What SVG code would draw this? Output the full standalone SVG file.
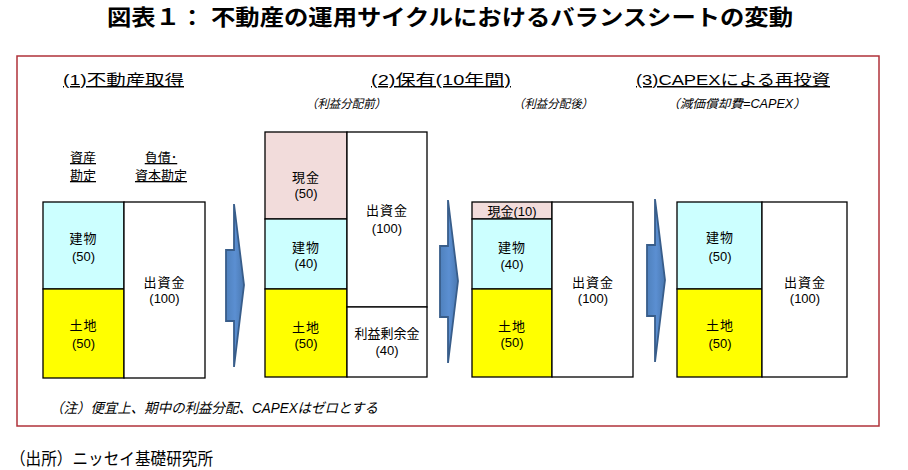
<svg xmlns="http://www.w3.org/2000/svg" width="908" height="470" viewBox="0 0 908 470">
<defs>
<linearGradient id="ag" x1="0" y1="0" x2="1" y2="0">
<stop offset="0" stop-color="#4f81bd"/>
<stop offset="0.5" stop-color="#5b8fd2"/>
<stop offset="1" stop-color="#4a78b0"/>
</linearGradient>
<path id="arrow" d="M0,46 L8,46 L8,0 L18,81 L8,163 L8,117 L0,117 Z"/>
</defs>
<style>
text{font-family:"Liberation Sans","Noto Sans CJK JP",sans-serif;fill:#000}
.title{font-size:22px;font-weight:bold}
.hd{font-size:15px;text-decoration:underline}
.sub{font-size:12px;font-style:italic}
.lbl{font-size:13px;text-anchor:middle}
.col{font-size:13px;text-anchor:middle;text-decoration:underline}
.cell{stroke:#000;stroke-width:1.3}
.cash{fill:#f2dcdb}
.bld{fill:#ccffff}
.land{fill:#ffff00}
.eq{fill:#ffffff}
.arr{fill:url(#ag);stroke:#385d8a;stroke-width:1.8;stroke-linejoin:miter}
</style>
<rect width="908" height="470" fill="#ffffff"/>
<text class="title" x="107" y="25" textLength="686" lengthAdjust="spacingAndGlyphs">図表１： 不動産の運用サイクルにおけるバランスシートの変動</text>
<rect x="17" y="56" width="862" height="370" fill="none" stroke="#b0323a" stroke-width="1.5"/>

<text class="hd" x="63" y="85" textLength="121" lengthAdjust="spacingAndGlyphs">(1)不動産取得</text>
<text class="hd" x="371" y="85" textLength="140" lengthAdjust="spacingAndGlyphs">(2)保有(10年間)</text>
<text class="hd" x="636" y="85" textLength="194" lengthAdjust="spacingAndGlyphs">(3)CAPEXによる再投資</text>
<text class="sub" x="306" y="108" textLength="80" lengthAdjust="spacingAndGlyphs">（利益分配前）</text>
<text class="sub" x="513" y="108" textLength="80" lengthAdjust="spacingAndGlyphs">（利益分配後）</text>
<text class="sub" x="667" y="108" textLength="139" lengthAdjust="spacingAndGlyphs">（減価償却費=CAPEX）</text>

<g id="bs1">
<text class="col" x="83" y="162">資産</text>
<text class="col" x="83" y="180">勘定</text>
<text class="col" x="161" y="162">負債･</text>
<text class="col" x="161" y="180">資本勘定</text>
<g id="bs1-building"><rect class="cell bld" x="43" y="202" width="81" height="87"/><text class="lbl" x="83.5" y="243" letter-spacing="1">建物</text><text class="lbl" x="83.5" y="261">(50)</text></g>
<g id="bs1-land"><rect class="cell land" x="43" y="289" width="81" height="89"/><text class="lbl" x="83.5" y="330" letter-spacing="1">土地</text><text class="lbl" x="83.5" y="348">(50)</text></g>
<g id="bs1-capital"><rect class="cell eq" x="124" y="202" width="81" height="176"/><text class="lbl" x="164.5" y="287" letter-spacing="1">出資金</text><text class="lbl" x="164.5" y="303">(100)</text></g>
</g>

<g id="bs2">
<g id="bs2-cash"><rect class="cell cash" x="265" y="132" width="82" height="87"/><text class="lbl" x="306" y="182" letter-spacing="1">現金</text><text class="lbl" x="306" y="198">(50)</text></g>
<g id="bs2-building"><rect class="cell bld" x="265" y="219" width="82" height="70"/><text class="lbl" x="306" y="252" letter-spacing="1">建物</text><text class="lbl" x="306" y="268">(40)</text></g>
<g id="bs2-land"><rect class="cell land" x="265" y="289" width="82" height="88"/><text class="lbl" x="306" y="332" letter-spacing="1">土地</text><text class="lbl" x="306" y="348">(50)</text></g>
<g id="bs2-capital"><rect class="cell eq" x="347" y="132" width="80" height="175"/><text class="lbl" x="387" y="215" letter-spacing="1">出資金</text><text class="lbl" x="387" y="233">(100)</text></g>
<g id="bs2-retained"><rect class="cell eq" x="347" y="307" width="80" height="70"/><text class="lbl" x="387" y="338">利益剰余金</text><text class="lbl" x="387" y="355">(40)</text></g>
</g>

<g id="bs3">
<g id="bs3-cash"><rect class="cell cash" x="472" y="202" width="80" height="17"/><text class="lbl" x="512" y="216">現金(10)</text></g>
<g id="bs3-building"><rect class="cell bld" x="472" y="219" width="80" height="70"/><text class="lbl" x="512" y="252" letter-spacing="1">建物</text><text class="lbl" x="512" y="269">(40)</text></g>
<g id="bs3-land"><rect class="cell land" x="472" y="289" width="80" height="88"/><text class="lbl" x="512" y="331" letter-spacing="1">土地</text><text class="lbl" x="512" y="347">(50)</text></g>
<g id="bs3-capital"><rect class="cell eq" x="552" y="202" width="81" height="175"/><text class="lbl" x="593" y="287" letter-spacing="1">出資金</text><text class="lbl" x="593" y="303">(100)</text></g>
</g>

<g id="bs4">
<g id="bs4-building"><rect class="cell bld" x="677" y="202" width="85" height="87"/><text class="lbl" x="720" y="242" letter-spacing="1">建物</text><text class="lbl" x="720" y="261">(50)</text></g>
<g id="bs4-land"><rect class="cell land" x="677" y="289" width="85" height="88"/><text class="lbl" x="720" y="330" letter-spacing="1">土地</text><text class="lbl" x="720" y="348">(50)</text></g>
<g id="bs4-capital"><rect class="cell eq" x="762" y="202" width="85" height="175"/><text class="lbl" x="805" y="287" letter-spacing="1">出資金</text><text class="lbl" x="805" y="303">(100)</text></g>
</g>

<g id="connectors">
<use href="#arrow" class="arr" x="226" y="204"/>
<use href="#arrow" class="arr" x="440" y="200"/>
<use href="#arrow" class="arr" x="647" y="199"/>
</g>

<text class="sub" x="50" y="413" style="font-size:14px" textLength="328" lengthAdjust="spacingAndGlyphs">（注）便宜上、期中の利益分配、CAPEXはゼロとする</text>
<text x="10" y="465" style="font-size:17px" textLength="203" lengthAdjust="spacingAndGlyphs">（出所）ニッセイ基礎研究所</text>
</svg>
